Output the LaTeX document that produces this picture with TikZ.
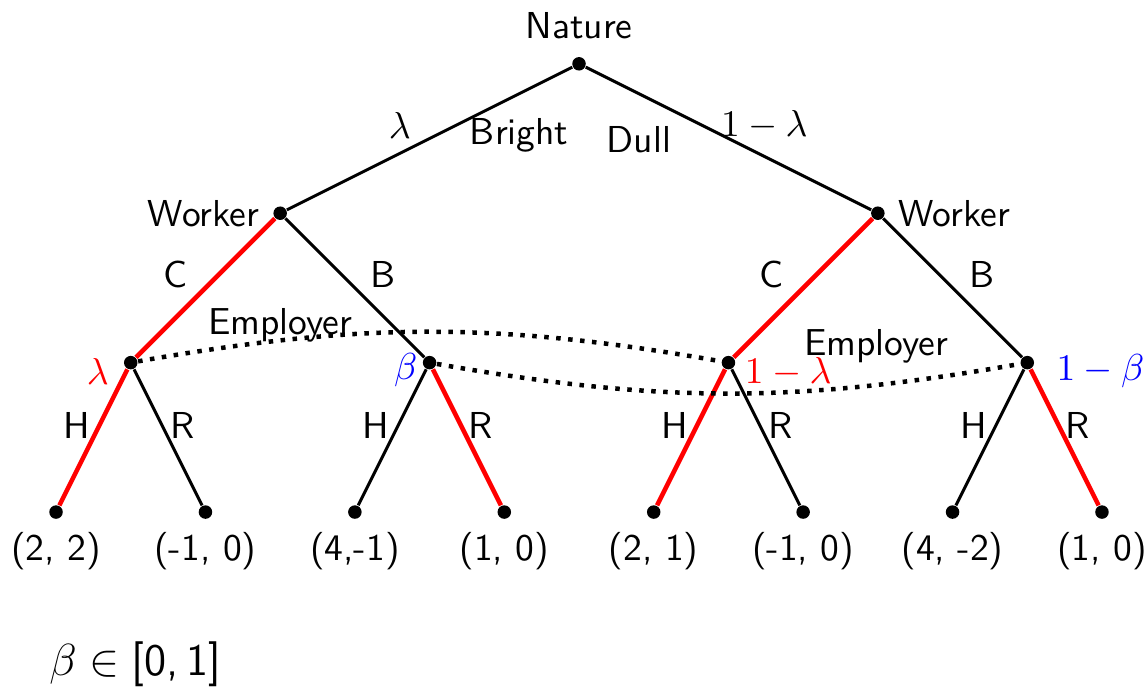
\documentclass[tikz,border=0pt]{standalone}
\usepackage{sansmath}
\usepackage{tikz}

\begin{document}
\sffamily\sansmath
\begin{tikzpicture}[x=1.4cm, y=1.4cm, font=\sffamily\sansmath,
    dot/.style={circle, fill, inner sep=0pt, minimum size=3.6pt},
    branch/.style={thick},
    best/.style={very thick, red},
    infoset/.style={line width=1.2pt, dotted}]
    \useasboundingbox (-0.375,-1.178) rectangle (7.308,3.427);
    % decision nodes
    \node[dot, label={[label distance=1pt]above:Nature}] (nat) at (3.5,3) {};
    \node[dot, label=left:Worker] (wbright) at (1.5,2) {};
    \node[dot, label=right:Worker] (wdull) at (5.5,2) {};
    \node[dot] (ebc) at (0.5,1) {};
    \node[dot] (ebb) at (2.5,1) {};
    \node[dot] (edc) at (4.5,1) {};
    \node[dot] (edb) at (6.5,1) {};
    % terminal nodes
    \node[dot, label=below:{(2, 2)}] (t1) at (0,0) {};
    \node[dot, label=below:{(-1, 0)}] (t2) at (1,0) {};
    \node[dot, label=below:{(4,-1)}] (t3) at (2,0) {};
    \node[dot, label=below:{(1, 0)}] (t4) at (3,0) {};
    \node[dot, label=below:{(2, 1)}] (t5) at (4,0) {};
    \node[dot, label=below:{(-1, 0)}] (t6) at (5,0) {};
    \node[dot, label=below:{(4, -2)}] (t7) at (6,0) {};
    \node[dot, label=below:{(1, 0)}] (t8) at (7,0) {};
    % branches
    \draw[branch] (nat) -- (wbright);
    \draw[branch] (nat) -- (wdull);
    \draw[best] (wbright) -- (ebc);
    \draw[branch] (wbright) -- (ebb);
    \draw[best] (wdull) -- (edc);
    \draw[branch] (wdull) -- (edb);
    \draw[best] (ebc) -- (t1);
    \draw[branch] (ebc) -- (t2);
    \draw[branch] (ebb) -- (t3);
    \draw[best] (ebb) -- (t4);
    \draw[best] (edc) -- (t5);
    \draw[branch] (edc) -- (t6);
    \draw[branch] (edb) -- (t7);
    \draw[best] (edb) -- (t8);
    % information sets
    \draw[infoset] (ebc) to[bend left=10] (edc);
    \draw[infoset] (ebb) to[bend right=10] (edb);
    % labels
    \node at (2.30,2.59) {$\lambda$};
    \node at (3.10,2.52) {Bright};
    \node at (3.90,2.49) {Dull};
    \node at (4.74,2.59) {$\mathsf{1}-\lambda$};
    \node at (0.80,1.59) {C};
    \node at (2.19,1.59) {B};
    \node at (4.79,1.59) {C};
    \node at (6.20,1.59) {B};
    \node at (1.50,1.25) {Employer};
    \node at (5.49,1.11) {Employer};
    \node[red] at (0.28,0.94) {$\lambda$};
    \node[blue] at (2.34,0.95) {$\beta$};
    \node[red] at (4.90,0.94) {$\mathsf{1}-\lambda$};
    \node[blue] at (6.99,0.94) {$\mathsf{1}-\beta$};
    \node at (0.14,0.58) {H};
    \node at (0.85,0.58) {R};
    \node at (2.14,0.58) {H};
    \node at (2.84,0.58) {R};
    \node at (4.14,0.58) {H};
    \node at (4.85,0.58) {R};
    \node at (6.14,0.58) {H};
    \node at (6.84,0.58) {R};
    \node[font=\sffamily\sansmath\large] at (0.53,-1.02) {$\beta\in\textsf{[0,\,1]}$};
\end{tikzpicture}
\end{document}
